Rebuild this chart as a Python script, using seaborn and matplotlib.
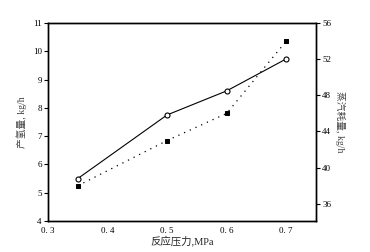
import matplotlib
matplotlib.use("Agg")
import matplotlib.pyplot as plt
import seaborn as sns
import pandas as pd

pressure = [0.35, 0.5, 0.6, 0.7]
hydrogen = [5.5, 7.75, 8.6, 9.73]
steam = [38.0, 43.0, 46.0, 54.0]
xticks = [0.3, 0.4, 0.5, 0.6, 0.7]
xticklabels = ["0. 3", "0. 4", "0. 5", "0. 6", "0. 7"]
left_ticks = [4, 5, 6, 7, 8, 9, 10, 11]
right_ticks = [36, 40, 44, 48, 52, 56]

sns.set_style("white")
plt.rcParams['font.family'] = ['Liberation Serif', 'Noto Sans CJK SC']

df = pd.DataFrame({"p": pressure, "h": hydrogen, "s": steam})

fig = plt.figure(figsize=(3.7, 2.52), dpi=100)
ax = fig.add_axes([0.1297, 0.123, 0.7243, 0.7857])
ax2 = ax.twinx()

sns.lineplot(data=df, x="p", y="h", ax=ax, color="black", linewidth=0.8,
             marker="o", markersize=3.6, markerfacecolor="white",
             markeredgecolor="black", markeredgewidth=0.8)
sns.lineplot(data=df, x="p", y="s", ax=ax2, color="black", linewidth=0.9,
             linestyle=(0, (1, 4)), marker="s", markersize=3.3,
             markerfacecolor="black", markeredgecolor="black")

ax.set_xlim(0.3, 0.75)
ax.set_ylim(4, 11)
ax2.set_ylim(34.1, 56)
ax.set_xticks(xticks)
ax.set_xticklabels(xticklabels)
ax.set_yticks(left_ticks)
ax2.set_yticks(right_ticks)

for a in (ax, ax2):
    for sp in a.spines.values():
        sp.set_color("black")
        sp.set_linewidth(1.0)
    a.tick_params(direction="out", length=3, width=0.8, labelsize=6.5,
                  colors="black", pad=1.5)

ax.set_xlabel("反应压力,MPa", fontsize=7.5, labelpad=0)
ax.set_ylabel("产氢量, kg/h", fontsize=7, color="#444444", labelpad=4)
ax2.set_ylabel("蒸汽耗量, kg/h", fontsize=7, color="#444444", rotation=-90,
               labelpad=10)

fig.savefig("out.png", dpi=100)
